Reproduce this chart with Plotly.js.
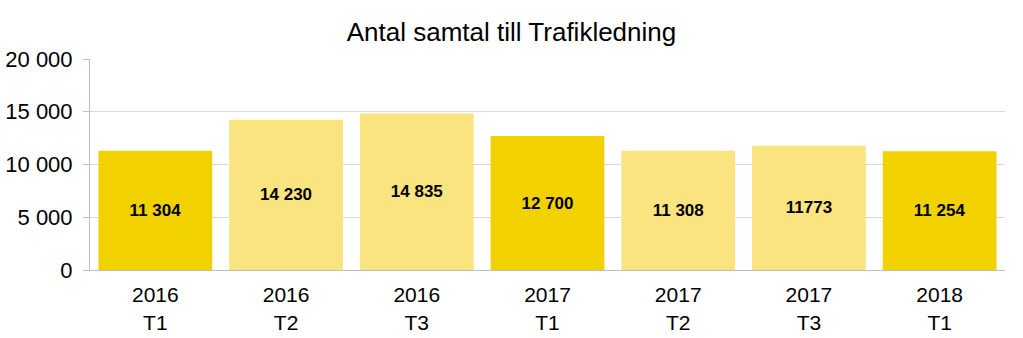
<!DOCTYPE html>
<html><head><meta charset="utf-8">
<script src="https://cdn.plot.ly/plotly-3.0.1.min.js"></script>
<style>body{margin:0;background:#fff}#c{width:1023px;height:338px}</style>
</head><body><div id="c"></div>
<script>
var categories = ["2016<br>T1","2016<br>T2","2016<br>T3","2017<br>T1","2017<br>T2","2017<br>T3","2018<br>T1"];
var values = [11304, 14230, 14835, 12700, 11308, 11773, 11254];
var labels = ["11 304","14 230","14 835","12 700","11 308","11773","11 254"];
var yTickVals = [0, 5000, 10000, 15000, 20000];
var yTickText = ["0","5 000","10 000","15 000","20 000"];
var dark = "#F2D100", light = "#F9E47F";
var colors = [dark, light, light, dark, light, light, dark];

Plotly.newPlot("c", [{
  type: "bar", x: categories, y: values, text: labels,
  textposition: "inside", insidetextanchor: "middle",
  textfont: {family: "Liberation Sans, Arial", size: 17, color: "#000", weight: "bold"},
  marker: {color: colors}, hoverinfo: "none"
}], {
  width: 1023, height: 338,
  margin: {l: 90, r: 18, t: 59, b: 68},
  bargap: 0.13,
  paper_bgcolor: "#fff", plot_bgcolor: "#fff",
  title: {text: "Antal samtal till Trafikledning", x: 0.5, xanchor: "center", y: 0.905, yanchor: "middle",
    font: {family: "Liberation Sans, Arial", size: 26, color: "#000"}},
  font: {family: "Liberation Sans, Arial", color: "#000"},
  xaxis: {showline: true, linecolor: "#BFBFBF", linewidth: 1, ticks: "", showgrid: false,
    ticklabelstandoff: 6, tickfont: {size: 21, color: "#000"}},
  yaxis: {range: [0, 20000], tickvals: yTickVals, ticktext: yTickText,
    showline: true, linecolor: "#BFBFBF", linewidth: 1, ticks: "outside", ticklen: 6, tickcolor: "#BFBFBF",
    gridcolor: "#D9D9D9", gridwidth: 1, zeroline: false, ticklabelstandoff: 6,
    tickfont: {size: 22, color: "#000"}},
  showlegend: false
}, {displayModeBar: false, staticPlot: true});
</script></body></html>
